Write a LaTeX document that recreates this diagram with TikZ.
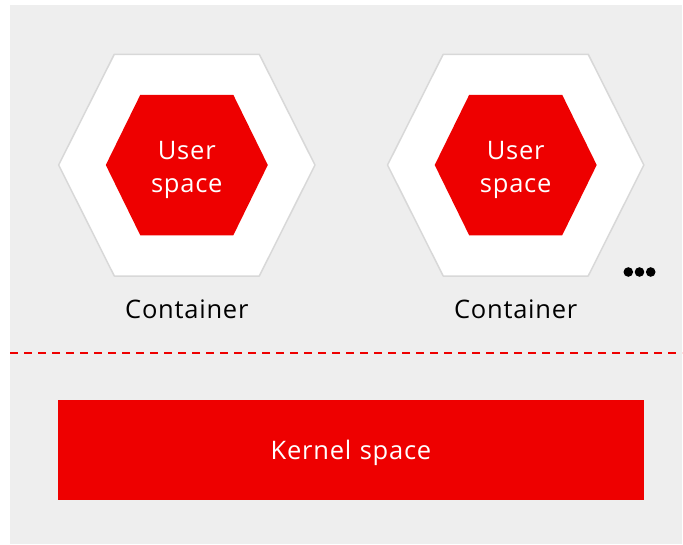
\documentclass[tikz,border=0pt]{standalone}
\usepackage{fontspec}
\setmainfont{Open Sans}
\newfontfamily\lblfont{Open Sans}[LetterSpace=3,WordSpace=1.15]
\definecolor{bg}{HTML}{EEEEEE}
\definecolor{rhred}{HTML}{EE0000}
\definecolor{hexline}{HTML}{D8D8D8}
\begin{document}
\begin{tikzpicture}[x=1pt,y=-1pt,
  outerhex/.style={fill=white,draw=hexline,line width=1.5pt,line join=round},
  innerhex/.style={fill=rhred},
  lbl/.style={font=\lblfont\fontsize{25.5}{33}\selectfont,anchor=base,inner sep=0pt},
  wlbl/.style={lbl,text=white},
  dot/.style={fill=black}]
\useasboundingbox (0,0) rectangle (683,544);
\fill[bg] (10,5) rectangle (682,544);
% containers
\foreach \cx/\nm in {186.8/a,515.7/b}{
  \begin{scope}[shift={(\cx,0)}]
    \draw[outerhex] (-72.5,54.3) -- (72.5,54.3) -- (128.2,165) -- (72.5,276) -- (-72.5,276) -- (-128.2,165) -- cycle;
    \fill[innerhex] (-46.5,94.8) -- (46.5,94.8) -- (81,165) -- (46.5,235.3) -- (-46.5,235.3) -- (-81,165) -- cycle;
    \node[wlbl] (user\nm) at (0,159) {User};
    \node[wlbl] (space\nm) at (0,192) {space};
    \node[lbl] (cont\nm) at (0,318.5) {Container};
  \end{scope}
}
% dots
\fill[dot] (628.3,272) circle (4.8) (639.5,272) circle (4.8) (650.7,272) circle (4.8);
% dashed line
\coordinate (dl) at (10,352.5);
\coordinate (dr) at (682,352.5);
\draw[rhred,line width=2pt,dash pattern=on 8pt off 6pt] (dl) -- (dr);
% kernel
\fill[rhred] (58,400) rectangle (644,500);
\node[wlbl] (kernel) at (351,459) {Kernel space};
\end{tikzpicture}
\end{document}
